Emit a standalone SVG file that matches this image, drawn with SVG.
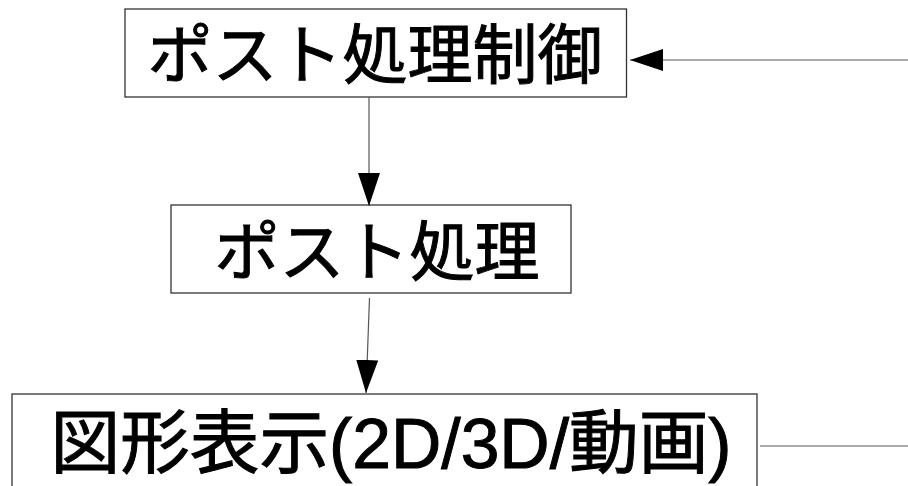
<svg xmlns="http://www.w3.org/2000/svg" width="908" height="486" viewBox="0 0 908 486">
<style>
.box{fill:#fff;stroke:#333;stroke-width:1.3}
.lbl{font-family:"Liberation Sans","Noto Sans CJK JP",sans-serif;fill:#000;stroke:#000;stroke-width:1;text-anchor:middle}
.conn{stroke:#555;stroke-width:1.2;fill:none}
</style>
<defs>
<marker id="ah" viewBox="0 0 33 22" refX="33" refY="11" markerWidth="33" markerHeight="22" markerUnits="userSpaceOnUse" orient="auto">
<path d="M0,0 L33,11 L0,22 z" fill="#000"/>
</marker>
</defs>
<rect width="908" height="486" fill="#fff"/>
<g id="node-control">
<rect class="box" x="125" y="9" width="501.5" height="88"/>
<text class="lbl" x="375" y="78" font-size="65">ポスト処理制御</text>
</g>
<g id="node-post">
<rect class="box" x="171" y="205" width="400" height="88"/>
<text class="lbl" x="377" y="275" font-size="65">ポスト処理</text>
</g>
<g id="node-display">
<rect class="box" x="12" y="394" width="745" height="100"/>
<text class="lbl" x="391" y="468" font-size="70" textLength="681" lengthAdjust="spacingAndGlyphs">図形表示(2D/3D/動画)</text>
</g>
<g id="connectors">
<line class="conn" x1="908" y1="60" x2="630" y2="60" marker-end="url(#ah)"/>
<line class="conn" x1="369" y1="97" x2="369" y2="206" marker-end="url(#ah)"/>
<line class="conn" x1="369.5" y1="298" x2="366" y2="393" marker-end="url(#ah)"/>
<line class="conn" x1="760" y1="446" x2="908" y2="446"/>
</g>
</svg>
